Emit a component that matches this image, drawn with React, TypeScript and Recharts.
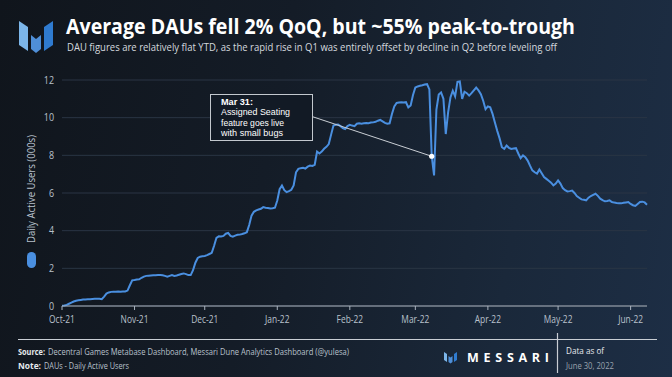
import { CartesianGrid, Line, LineChart, ReferenceDot, ReferenceLine, XAxis, YAxis } from 'recharts'

// daily active users (000s), one value per day starting Oct 1, 2021
const dau = [
  0.02, 0.03, 0.06, 0.12, 0.18, 0.24, 0.28, 0.3, 0.32, 0.34,
  0.35, 0.36, 0.36, 0.37, 0.38, 0.38, 0.39, 0.36, 0.5, 0.66,
  0.72, 0.75, 0.76, 0.76, 0.77, 0.76, 0.77, 0.77, 0.82, 1.1,
  1.36, 1.38, 1.41, 1.42, 1.5, 1.56, 1.6, 1.61, 1.62, 1.63,
  1.63, 1.64, 1.64, 1.63, 1.6, 1.56, 1.6, 1.64, 1.6, 1.62,
  1.66, 1.7, 1.73, 1.69, 1.64, 1.64, 1.9, 2.3, 2.55, 2.62,
  2.64, 2.66, 2.7, 2.76, 2.82, 3.2, 3.62, 3.7, 3.69, 3.72,
  3.84, 3.88, 3.72, 3.68, 3.74, 3.78, 3.79, 3.82, 3.86, 3.92,
  4.3, 4.8, 5.0, 5.08, 5.12, 5.16, 5.25, 5.22, 5.2, 5.18,
  5.19, 5.22, 5.6, 6.2, 6.4, 6.15, 6.05, 6.1, 6.17, 6.4,
  7.1, 7.28, 7.32, 7.34, 7.3, 7.4, 7.46, 7.44, 7.5, 8.2,
  8.1, 8.2, 8.35, 8.45, 8.6, 9.1, 9.58, 9.62, 9.63, 9.55,
  9.45, 9.4, 9.55, 9.62, 9.58, 9.55, 9.68, 9.7, 9.68, 9.7,
  9.72, 9.7, 9.74, 9.75, 9.78, 9.84, 9.88, 9.8, 9.72, 9.68,
  9.7, 10.2, 10.6, 10.78, 10.8, 10.82, 10.8, 10.82, 10.55, 10.65,
  11.2, 11.6, 11.66, 11.69, 11.72, 11.76, 11.78, 11.5, 7.95, 6.93,
  10.43, 11.23, 11.34, 11.0, 9.13, 10.28, 11.07, 11.43, 11.13, 11.9,
  11.92, 11.0, 11.38, 11.3, 11.17, 11.3, 11.45, 11.6, 11.45, 11.25,
  10.9, 10.45, 10.6, 10.55, 10.2, 9.74, 9.3, 8.9, 8.43, 8.34,
  8.52, 8.4, 8.34, 8.36, 8.38, 8.1, 7.85, 8.0, 7.9, 7.72,
  7.45, 7.2, 7.1, 7.03, 7.25, 7.05, 6.85, 6.75, 6.65, 6.55,
  6.4, 6.5, 6.67, 6.5, 6.26, 6.15, 6.08, 6.1, 6.13, 6.0,
  5.84, 5.75, 5.66, 5.64, 5.61, 5.75, 5.84, 5.9, 5.96, 5.85,
  5.7, 5.62, 5.56, 5.58, 5.61, 5.52, 5.49, 5.47, 5.46, 5.45,
  5.48, 5.5, 5.52, 5.42, 5.35, 5.31, 5.42, 5.52, 5.54, 5.5,
  5.38,
]

const monthTicks = [0, 31, 61, 92, 123, 151, 182, 212, 243]
const monthLabels = ['Oct-21', 'Nov-21', 'Dec-21', 'Jan-22', 'Feb-22', 'Mar-22', 'Apr-22', 'May-22', 'Jun-22']
const yTicks = [0, 2, 4, 6, 8, 10, 12]

// annotation: dip point and where the leader line meets the box
const calloutDay = 158
const calloutValue = 7.95
const leaderStart = { day: 107.1, value: 10.05 }

const chartData = dau.map((v, i) => ({ day: i, dau: v }))

const FONT = "'Open Sans', sans-serif"
const CALLOUT_FONT = "'Liberation Sans', Arial, sans-serif"
const BLUE = '#4a8fe0'

function XTick({ x, y, payload }: any) {
  const idx = monthTicks.indexOf(payload.value)
  return (
    <g transform={`translate(${x},${y})`}>
      <text transform="scale(0.8,1)" textAnchor="middle" dy="0.71em" fontSize={10.5} fill="#b9c1cc" fontFamily={FONT}>
        {monthLabels[idx]}
      </text>
    </g>
  )
}

function YTick({ x, y, payload }: any) {
  return (
    <g transform={`translate(${x},${y})`}>
      <text transform="scale(0.85,1)" textAnchor="end" dy="0.355em" fontSize={10.5} fill="#b9c1cc" fontFamily={FONT}>
        {payload.value}
      </text>
    </g>
  )
}

// narrow footer text: horizontal squeeze, width fixed in screen pixels
function Narrow({ x, y, width, bold, fill, children }: any) {
  const sx = 0.75
  return (
    <text
      transform={`translate(${x},${y}) scale(${sx},1)`}
      fontSize={9.5}
      fontWeight={bold ? 700 : 400}
      fill={fill}
      fontFamily={FONT}
      textLength={width / sx}
      lengthAdjust="spacingAndGlyphs"
    >
      {children}
    </text>
  )
}

export default function App() {
  return (
    <div
      style={{
        position: 'absolute',
        left: 0,
        top: 0,
        width: 672,
        height: 377,
        overflow: 'hidden',
        background: 'linear-gradient(100deg, #10151c 0%, #141c27 40%, #1a283a 75%, #1d2e45 100%)',
        fontFamily: FONT,
      }}
    >
      <LineChart
        width={672}
        height={377}
        data={chartData}
        margin={{ top: 80, right: 25, bottom: 51, left: 0 }}
        style={{ position: 'absolute', left: 0, top: 0 }}
      >
        <CartesianGrid vertical={false} stroke="#2a3544" strokeWidth={1} />
        <XAxis
          type="number"
          dataKey="day"
          domain={[0, 250]}
          ticks={monthTicks}
          interval={0}
          height={20}
          stroke="#aab3be"
          tickSize={4}
          tickMargin={6}
          tick={<XTick />}
        />
        <YAxis
          type="number"
          domain={[0, 12]}
          ticks={yTicks}
          width={62}
          axisLine={false}
          tickLine={false}
          tick={<YTick />}
        />
        <Line
          type="linear"
          dataKey="dau"
          name="Daily Active Users (000s)"
          stroke={BLUE}
          strokeWidth={2}
          dot={false}
          isAnimationActive={false}
        />
        <ReferenceLine
          segment={[
            { x: leaderStart.day, y: leaderStart.value },
            { x: calloutDay, y: calloutValue },
          ]}
          stroke="#c9ced4"
          strokeWidth={1}
        />
        <ReferenceDot x={calloutDay} y={calloutValue} r={2.6} fill="#ffffff" stroke="none" />
      </LineChart>

      {/* legend swatch */}
      <div style={{ position: 'absolute', left: 27, top: 252, width: 9, height: 16, borderRadius: 5, background: BLUE }} />

      <svg width={672} height={377} style={{ position: 'absolute', left: 0, top: 0, pointerEvents: 'none' }}>
        {/* logo */}
        <polygon points="19,21 28,27 28,51 19,45" fill="#7cb6ea" />
        <polygon points="31,35 36,39 41,35 41,49 36,53 31,49" fill="#4f8fd8" />
        <polygon points="44,27 53,21 53,45 44,51" fill="#2f7bd0" />

        <text x={66} y={34} fontSize={22} fontWeight={700} fill="#ffffff" fontFamily={FONT} textLength={509} lengthAdjust="spacingAndGlyphs">
          Average DAUs fell 2% QoQ, but ~55% peak-to-trough
        </text>
        <text x={67} y={51} fontSize={11.5} fill="#d4d9df" fontFamily={FONT} textLength={490} lengthAdjust="spacingAndGlyphs">
          DAU figures are relatively flat YTD, as the rapid rise in Q1 was entirely offset by decline in Q2 before leveling off
        </text>

        <text
          transform="translate(35,189) rotate(-90)"
          textAnchor="middle"
          fontSize={11.5}
          fill="#b9c1cc"
          fontFamily={FONT}
          textLength={108}
          lengthAdjust="spacingAndGlyphs"
        >
          Daily Active Users (000s)
        </text>

        {/* callout box */}
        <rect x={210.5} y={94.5} width={102} height={46} fill="#121a25" stroke="#c3c8ce" strokeWidth={1} />
        <text x={221} y={104.5} fontSize={9} fontWeight={700} fill="#ffffff" fontFamily={CALLOUT_FONT} textLength={32} lengthAdjust="spacingAndGlyphs">
          Mar 31:
        </text>
        <text x={221} y={115} fontSize={9} fill="#ffffff" fontFamily={CALLOUT_FONT} textLength={69} lengthAdjust="spacingAndGlyphs">
          Assigned Seating
        </text>
        <text x={221} y={125.5} fontSize={9} fill="#ffffff" fontFamily={CALLOUT_FONT} textLength={63} lengthAdjust="spacingAndGlyphs">
          feature goes live
        </text>
        <text x={221} y={136} fontSize={9} fill="#ffffff" fontFamily={CALLOUT_FONT} textLength={62} lengthAdjust="spacingAndGlyphs">
          with small bugs
        </text>

        {/* footer */}
        <line x1={18} y1={339.5} x2={657} y2={339.5} stroke="#c9ced4" strokeWidth={1.2} />
        <line x1={557.5} y1={333} x2={557.5} y2={373} stroke="#c9ced4" strokeWidth={1.2} />
        <Narrow x={18} y={355} width={27} bold fill="#e6e9ed">Source:</Narrow>
        <Narrow x={48} y={355} width={301} fill="#b9c1cc">
          Decentral Games Metabase Dashboard, Messari Dune Analytics Dashboard (@yulesa)
        </Narrow>
        <Narrow x={18} y={369} width={23} bold fill="#e6e9ed">Note:</Narrow>
        <Narrow x={44} y={369} width={85} fill="#b9c1cc">DAUs - Daily Active Users</Narrow>

        <polygon points="444,352 447,354 447,362 444,360" fill="#7cb6ea" />
        <polygon points="448.5,356 450.5,357.5 452.5,356 452.5,362 450.5,363.5 448.5,362" fill="#4f8fd8" />
        <polygon points="454,354 457,352 457,360 454,362" fill="#2f7bd0" />
        <text x={467} y={362} fontSize={12.5} fontWeight={700} fill="#ffffff" fontFamily={FONT} textLength={82} lengthAdjust="spacing">
          MESSARI
        </text>

        <Narrow x={566} y={354} width={38} fill="#e6e9ed">Data as of</Narrow>
        <Narrow x={566} y={369} width={48} fill="#9aa3ae">June 30, 2022</Narrow>
      </svg>
    </div>
  )
}
